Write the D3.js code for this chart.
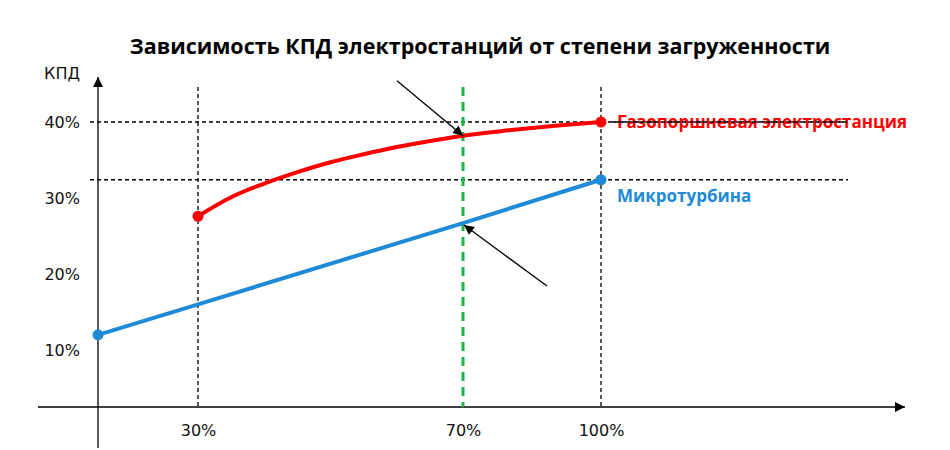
<!DOCTYPE html>
<html>
<head>
<meta charset="utf-8">
<script src="https://cdn.jsdelivr.net/npm/d3@7"></script>
<style>
  body { margin: 0; background: #fff; }
  text { font-family: "Open Sans", sans-serif; }
  .tick-label, .tick text { font-family: "DejaVu Sans", sans-serif; }
</style>
</head>
<body>
<div id="chart"></div>
<script>
// data (load %, efficiency %)
const redLoad = [30, 35, 40, 45, 50, 55, 60, 65, 70, 80, 90, 100];
const redEff  = [27.6, 30.1, 31.9, 33.4, 34.7, 35.75, 36.7, 37.5, 38.2, 38.9, 39.5, 40.0];
const blueLoad = [0, 30, 70, 100];
const blueEff  = [12.0, 16.0, 26.7, 32.4];
const xTicks = [30, 70, 100];
const yTicks = [10, 20, 30, 40];
const markLoad = 70;

const width = 950, height = 450;

const svg = d3.select("#chart").append("svg")
    .attr("width", width)
    .attr("height", height);

// schematic (non-uniform) load axis, as in the original drawing
const x = d3.scaleLinear().domain([0, 30, 70, 100]).range([98, 198, 463, 601]);
const y = d3.scaleLinear().domain([10, 40]).range([350, 122]);
const axisY = y(2.5);
const guideTop = 87;

const defs = svg.append("defs");
defs.append("marker")
    .attr("id", "arrow")
    .attr("viewBox", "0 0 10 10")
    .attr("refX", 10).attr("refY", 5)
    .attr("markerWidth", 10).attr("markerHeight", 10)
    .attr("markerUnits", "userSpaceOnUse")
    .attr("orient", "auto")
    .append("path").attr("d", "M0,0 L10,5 L0,10 Z").attr("fill", "#000");
defs.append("marker")
    .attr("id", "axisArrow")
    .attr("viewBox", "0 0 10 10")
    .attr("refX", 10).attr("refY", 5)
    .attr("markerWidth", 10).attr("markerHeight", 11)
    .attr("markerUnits", "userSpaceOnUse")
    .attr("orient", "auto")
    .append("path").attr("d", "M0,0 L10,5 L0,10 Z").attr("fill", "#000");

// title
svg.append("text")
    .attr("x", 480).attr("y", 54)
    .attr("text-anchor", "middle")
    .attr("font-size", 21.5)
    .attr("font-weight", "bold")
    .text("Зависимость КПД электростанций от степени загруженности");

// axes lines
svg.append("line")
    .attr("x1", 38).attr("x2", 905)
    .attr("y1", axisY).attr("y2", axisY)
    .attr("stroke", "#000").attr("stroke-width", 1.3)
    .attr("marker-end", "url(#axisArrow)");
svg.append("line")
    .attr("x1", x(0)).attr("x2", x(0))
    .attr("y1", 448).attr("y2", 77)
    .attr("stroke", "#000").attr("stroke-width", 1.3)
    .attr("marker-end", "url(#axisArrow)");

svg.append("text")
    .attr("class", "tick-label")
    .attr("x", 80).attr("y", 79)
    .attr("text-anchor", "end")
    .attr("font-size", 16)
    .attr("fill", "#111")
    .text("КПД");

// tick labels
const yAxis = svg.append("g")
    .attr("transform", `translate(86,0)`)
    .call(d3.axisLeft(y).tickValues(yTicks).tickFormat(d => d + "%").tickSize(0).tickPadding(6));
yAxis.select(".domain").remove();
yAxis.selectAll("text").attr("font-size", 16).attr("fill", "#111");

const xAxis = svg.append("g")
    .attr("transform", `translate(0,${axisY})`)
    .call(d3.axisBottom(x).tickValues(xTicks).tickFormat(d => d + "%").tickSize(0).tickPadding(18));
xAxis.select(".domain").remove();
xAxis.selectAll("text").attr("font-size", 16).attr("fill", "#111");

// dashed guides
const redEnd = redEff[redEff.length - 1];
const blueEnd = blueEff[blueEff.length - 1];
[redEnd, blueEnd].forEach(v => {
    svg.append("line")
        .attr("x1", 90).attr("x2", 848)
        .attr("y1", y(v)).attr("y2", y(v))
        .attr("stroke", "#000").attr("stroke-width", 1.3)
        .attr("stroke-dasharray", "4,3");
});
[30, 100].forEach(v => {
    svg.append("line")
        .attr("x1", x(v)).attr("x2", x(v))
        .attr("y1", guideTop).attr("y2", axisY)
        .attr("stroke", "#000").attr("stroke-width", 1.3)
        .attr("stroke-dasharray", "4,3");
});
svg.append("line")
    .attr("x1", x(markLoad)).attr("x2", x(markLoad))
    .attr("y1", guideTop).attr("y2", axisY)
    .attr("stroke", "#1db44a").attr("stroke-width", 3)
    .attr("stroke-dasharray", "9,6");

// series
const redData = redLoad.map((d, i) => ({ load: d, eff: redEff[i] }));
const blueData = blueLoad.map((d, i) => ({ load: d, eff: blueEff[i] }));

const line = d3.line()
    .x(d => x(d.load))
    .y(d => y(d.eff));

svg.append("path")
    .datum(blueData)
    .attr("fill", "none")
    .attr("stroke", "#1f8ad6")
    .attr("stroke-width", 4)
    .attr("d", line);

svg.append("path")
    .datum(redData)
    .attr("fill", "none")
    .attr("stroke", "#ff0000")
    .attr("stroke-width", 4)
    .attr("d", line.curve(d3.curveMonotoneX));

[[blueData[0], blueData[blueData.length - 1], "#1f8ad6"],
 [redData[0], redData[redData.length - 1], "#ff0000"]].forEach(([a, b, c]) => {
    svg.selectAll(null).data([a, b]).join("circle")
        .attr("cx", d => x(d.load))
        .attr("cy", d => y(d.eff))
        .attr("r", 5.5)
        .attr("fill", c);
});

// series labels (red one sits under the dashed guide, so draw guide again on top)
svg.append("text")
    .attr("x", 617).attr("y", y(redEnd) + 6)
    .attr("font-size", 17)
    .attr("font-weight", "bold")
    .attr("fill", "#ff0000")
    .text("Газопоршневая электростанция");
svg.append("line")
    .attr("x1", 612).attr("x2", 848)
    .attr("y1", y(redEnd)).attr("y2", y(redEnd))
    .attr("stroke", "#000").attr("stroke-width", 1.3)
    .attr("stroke-dasharray", "4,3");
svg.append("text")
    .attr("x", 617).attr("y", y(blueEnd) + 22)
    .attr("font-size", 17)
    .attr("font-weight", "bold")
    .attr("fill", "#1f8ad6")
    .text("Микротурбина");

// pointer arrows at the 70% load mark
const redAt = redEff[redLoad.indexOf(markLoad)];
const blueAt = blueEff[blueLoad.indexOf(markLoad)];
svg.append("line")
    .attr("x1", x(markLoad) - 66).attr("y1", y(redAt) - 55)
    .attr("x2", x(markLoad)).attr("y2", y(redAt))
    .attr("stroke", "#000").attr("stroke-width", 1.3)
    .attr("marker-end", "url(#arrow)");
svg.append("line")
    .attr("x1", x(markLoad) + 84).attr("y1", y(blueAt) + 63)
    .attr("x2", x(markLoad) + 1).attr("y2", y(blueAt) + 2)
    .attr("stroke", "#000").attr("stroke-width", 1.3)
    .attr("marker-end", "url(#arrow)");
</script>
</body>
</html>
